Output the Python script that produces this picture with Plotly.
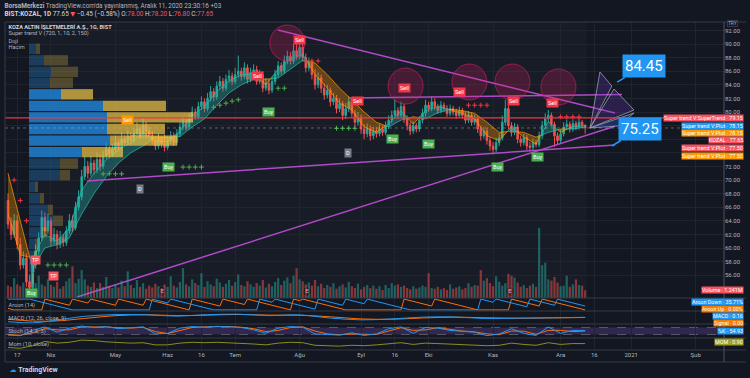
import plotly.graph_objects as go

# ---------------- data ----------------
open_ = [67.0, 63.5, 62.0, 64.0, 60.5, 57.5, 58.5, 55.0, 54.2, 57.5,
         59.5, 61.5, 64.5, 62.5, 64.0, 61.0, 62.0, 60.5, 61.5, 60.8,
         62.5, 64.0, 63.0, 66.0, 67.5, 70.5, 72.0, 71.0, 72.5, 71.5,
         73.0, 72.0, 73.5, 74.5, 73.8, 74.5, 75.5, 74.8, 76.0, 75.5,
         76.5, 75.8, 76.8, 77.5, 76.5, 78.0, 77.2, 76.5, 75.8, 75.0,
         76.0, 75.3, 74.8, 75.8, 76.5, 75.5, 76.8, 77.8, 78.5, 77.8,
         79.0, 80.0, 79.3, 80.8, 81.5, 80.5, 82.0, 83.0, 82.2, 83.8,
         84.5, 83.5, 84.8, 85.3, 84.5, 85.5, 86.0, 85.2, 86.5, 84.8,
         85.8, 86.2, 84.5, 85.5, 83.5, 84.2, 83.2, 84.5, 85.5, 86.8,
         86.0, 87.5, 88.2, 87.5, 89.0, 88.2, 89.5, 88.0, 86.5, 87.2,
         85.5, 84.0, 85.0, 83.5, 82.5, 83.2, 81.5, 82.0, 80.5, 81.2,
         79.5, 80.5, 81.5, 79.8, 78.5, 79.2, 77.5, 76.8, 77.5, 76.5,
         77.2, 76.8, 77.5, 77.0, 78.0, 78.8, 79.5, 80.2, 79.5, 80.8,
         79.0, 78.0, 77.2, 78.0, 77.5, 78.8, 79.8, 81.0, 80.5, 81.5,
         80.8, 80.2, 81.0, 80.5, 79.8, 80.5, 80.0, 79.5, 80.2, 79.5,
         78.8, 79.5, 78.5, 79.0, 77.5, 76.5, 77.2, 75.8, 75.0, 74.5,
         75.5, 76.2, 78.5, 80.5, 78.0, 77.0, 77.8, 76.0, 75.5, 76.2,
         75.0, 74.8, 75.5, 75.2, 76.5, 78.0, 79.0, 79.5, 78.2, 76.5,
         75.8, 76.8, 77.8, 78.2, 77.5, 78.3, 77.8, 78.5, 78.0]
high = [68.0, 64.5, 65.0, 64.8, 61.5, 59.5, 59.2, 56.0, 58.2, 60.5,
        62.3, 65.5, 65.2, 65.0, 64.5, 63.0, 62.6, 62.5, 62.0, 63.2,
        65.0, 64.8, 66.8, 68.5, 71.5, 73.5, 72.8, 73.5, 73.0, 74.0,
        73.8, 74.3, 75.5, 75.0, 75.2, 76.5, 76.0, 77.0, 76.6, 77.3,
        77.0, 77.6, 78.5, 78.0, 79.0, 78.6, 77.8, 77.2, 76.5, 76.8,
        76.5, 76.0, 76.5, 77.2, 77.0, 77.5, 78.5, 79.3, 79.0, 79.8,
        80.8, 80.5, 81.5, 82.3, 82.0, 82.8, 83.8, 83.5, 84.5, 85.3,
        85.0, 85.5, 86.2, 85.8, 86.5, 88.3, 86.5, 87.3, 87.0, 86.5,
        87.0, 86.8, 86.2, 86.0, 85.0, 84.8, 85.2, 86.2, 87.5, 87.3,
        88.3, 89.0, 88.8, 90.0, 90.5, 90.3, 90.0, 88.6, 88.0, 87.6,
        86.3, 85.8, 85.5, 84.2, 84.0, 83.6, 82.8, 82.5, 82.0, 81.6,
        81.3, 82.3, 82.0, 80.3, 80.0, 79.6, 78.2, 78.3, 78.0, 77.8,
        77.8, 78.2, 78.0, 78.6, 79.5, 80.2, 81.8, 80.7, 81.5, 81.2,
        79.5, 78.5, 78.6, 78.4, 79.4, 80.5, 81.8, 81.5, 82.3, 82.0,
        81.2, 81.6, 81.4, 81.0, 81.1, 80.9, 80.5, 80.8, 80.6, 80.0,
        80.1, 79.9, 79.6, 79.4, 78.0, 77.8, 77.6, 76.3, 75.6, 76.2,
        76.9, 79.5, 81.8, 81.0, 78.5, 78.4, 78.2, 76.5, 76.8, 76.6,
        75.6, 76.1, 75.9, 77.1, 78.7, 79.8, 80.3, 79.9, 78.6, 77.0,
        77.4, 78.5, 78.9, 78.6, 78.9, 78.7, 79.1, 78.8, 78.2]
low = [62.8, 61.2, 61.5, 59.8, 56.8, 57.0, 54.3, 53.5, 53.8, 57.0,
       59.0, 61.0, 61.8, 62.0, 60.3, 60.5, 59.8, 60.0, 60.2, 60.3,
       62.0, 62.4, 62.6, 65.5, 67.0, 70.0, 70.2, 70.6, 70.8, 71.0,
       71.3, 71.6, 73.0, 73.2, 73.4, 74.0, 74.2, 74.4, 75.0, 75.1,
       75.2, 75.4, 76.3, 76.0, 76.1, 76.7, 76.0, 75.2, 74.4, 74.6,
       74.8, 74.2, 74.4, 75.3, 75.0, 75.1, 76.3, 77.3, 77.3, 77.4,
       78.5, 78.8, 78.9, 80.3, 80.0, 80.1, 81.5, 81.6, 81.8, 83.3,
       83.0, 83.1, 84.3, 84.0, 84.1, 85.0, 84.6, 84.8, 84.2, 84.4,
       85.3, 84.0, 84.1, 82.9, 83.1, 82.6, 82.8, 84.0, 85.1, 85.5,
       85.6, 87.0, 87.0, 87.1, 87.7, 87.8, 87.4, 85.8, 86.0, 84.8,
       83.3, 83.5, 82.8, 81.8, 82.0, 80.8, 81.0, 79.8, 80.0, 78.8,
       79.0, 80.0, 79.2, 77.8, 78.0, 76.8, 76.0, 76.3, 75.8, 76.0,
       76.2, 76.4, 76.5, 76.6, 77.5, 78.3, 79.0, 79.0, 79.1, 78.4,
       77.3, 76.6, 76.8, 77.0, 77.1, 78.3, 79.3, 80.0, 80.1, 80.3,
       79.7, 79.8, 80.0, 79.3, 79.4, 79.5, 79.0, 79.1, 79.0, 78.3,
       78.4, 78.0, 78.1, 76.9, 75.8, 76.1, 75.2, 74.3, 73.8, 74.0,
       75.0, 75.8, 78.0, 77.4, 76.4, 76.6, 75.4, 74.9, 75.1, 74.4,
       74.2, 74.4, 74.8, 74.8, 76.0, 77.5, 78.5, 77.8, 74.9, 75.2,
       75.4, 76.4, 77.4, 77.0, 77.1, 77.3, 77.4, 77.7, 76.8]
close = [63.5, 62.0, 64.0, 60.5, 57.5, 58.5, 55.0, 54.2, 57.5, 59.5,
         61.5, 64.5, 62.5, 64.0, 61.0, 62.0, 60.5, 61.5, 60.8, 62.5,
         64.0, 63.0, 66.0, 67.5, 70.5, 72.0, 71.0, 72.5, 71.5, 73.0,
         72.0, 73.5, 74.5, 73.8, 74.5, 75.5, 74.8, 76.0, 75.5, 76.5,
         75.8, 76.8, 77.5, 76.5, 78.0, 77.2, 76.5, 75.8, 75.0, 76.0,
         75.3, 74.8, 75.8, 76.5, 75.5, 76.8, 77.8, 78.5, 77.8, 79.0,
         80.0, 79.3, 80.8, 81.5, 80.5, 82.0, 83.0, 82.2, 83.8, 84.5,
         83.5, 84.8, 85.3, 84.5, 85.5, 86.0, 85.2, 86.5, 84.8, 85.8,
         86.2, 84.5, 85.5, 83.5, 84.2, 83.2, 84.5, 85.5, 86.8, 86.0,
         87.5, 88.2, 87.5, 89.0, 88.2, 89.5, 88.0, 86.5, 87.2, 85.5,
         84.0, 85.0, 83.5, 82.5, 83.2, 81.5, 82.0, 80.5, 81.2, 79.5,
         80.5, 81.5, 79.8, 78.5, 79.2, 77.5, 76.8, 77.5, 76.5, 77.2,
         76.8, 77.5, 77.0, 78.0, 78.8, 79.5, 80.2, 79.5, 80.8, 79.0,
         78.0, 77.2, 78.0, 77.5, 78.8, 79.8, 81.0, 80.5, 81.5, 80.8,
         80.2, 81.0, 80.5, 79.8, 80.5, 80.0, 79.5, 80.2, 79.5, 78.8,
         79.5, 78.5, 79.0, 77.5, 76.5, 77.2, 75.8, 75.0, 74.5, 75.5,
         76.2, 78.5, 80.5, 78.0, 77.0, 77.8, 76.0, 75.5, 76.2, 75.0,
         74.8, 75.5, 75.2, 76.5, 78.0, 79.0, 79.5, 78.2, 76.5, 75.8,
         76.8, 77.8, 78.2, 77.5, 78.3, 77.8, 78.5, 78.1, 77.65]
volume_m = [2.0, 1.8, 3.2, 2.2, 1.9, 2.5, 1.7, 2.8, 3.0, 2.4,
            3.6, 2.2, 1.9, 3.0, 2.1, 1.8, 2.6, 1.5, 1.9, 2.7,
            3.2, 5.1, 2.4, 3.1, 4.5, 3.0, 2.0, 1.8, 2.5, 1.6,
            2.4, 1.8, 3.4, 1.9, 1.6, 2.2, 1.7, 2.8, 1.9, 4.3,
            2.1, 1.6, 2.9, 1.8, 2.4, 1.5, 2.0, 1.7, 2.3, 1.9,
            1.6, 2.2, 1.8, 3.5, 2.0, 1.7, 2.6, 4.8, 2.2, 1.9,
            3.0, 2.4, 2.1, 4.0, 1.8, 2.7, 2.2, 1.9, 3.1, 2.5,
            1.8, 2.3, 2.9, 2.0, 2.6, 3.8, 2.1, 1.9, 2.7, 2.2,
            1.8, 2.4, 2.0, 2.9, 1.7, 2.3, 1.9, 2.6, 3.2, 2.1,
            2.8, 3.3, 2.4, 3.6, 4.8, 3.0, 2.7, 2.2, 2.5, 2.0,
            2.9, 1.9, 2.3, 1.6, 2.1, 1.8, 2.4, 1.5, 1.9, 2.2,
            1.7, 2.6, 1.9, 1.6, 2.3, 1.4, 1.8, 2.1, 1.6, 2.0,
            1.5, 1.9, 1.3, 2.1, 1.6, 2.4, 2.0, 2.2, 1.8, 2.0,
            1.6, 1.4, 1.9, 1.5, 1.7, 2.0, 1.8, 4.0, 1.6, 1.5,
            1.8, 1.4, 1.6, 1.3, 2.2, 1.5, 1.7, 1.9, 1.4, 1.6,
            2.4, 1.8, 2.1, 2.0, 4.5, 2.8, 3.2, 2.4, 1.9, 3.5,
            2.6, 2.0, 2.4, 3.9, 3.6, 3.3, 2.5, 1.8, 2.1, 1.6,
            2.0, 2.3, 1.8, 11.3, 5.3, 5.7, 3.0, 2.8, 3.4, 2.5,
            1.9, 2.0, 3.6, 1.8, 2.2, 3.0, 2.1, 2.0, 1.241]
bar_index = list(range(len(close)))

tick_idx = [3, 14, 35, 52, 63, 74, 95, 115, 126, 137, 158, 180, 191, 203, 224]
tick_text = ["17", "Nis", "May", "Haz", "16", "Tem", "Ağu", "Eyl", "16", "Eki",
             "Kas", "Ara", "16", "2021", "Şub"]
price_ticks = list(range(56, 93, 2))
hidden_price_ticks = [74, 76, 78]   # covered by the value badges on the scale
price_tick_text = ["" if v in hidden_price_ticks else "%.2f" % v for v in price_ticks]

# volume profile (price rows, up / down volume, value-area flag)
prof_price = [89.3, 87.6, 85.9, 84.3, 82.6, 80.9, 79.2, 77.5, 75.8, 74.1,
              72.4, 70.7, 69.0, 67.3, 65.6, 64.0, 62.3, 60.6, 58.9, 57.2, 55.5]
prof_up = [7, 15, 22, 21, 32, 74, 78, 78, 81, 53, 31, 31, 6, 11, 19, 24, 13, 6, 5, 4, 3]
prof_dn = [4, 24, 27, 23, 32, 63, 86, 58, 67, 41, 18, 10, 3, 4, 5, 10, 5, 3, 3, 2, 2]
prof_va = [0, 0, 0, 0, 1, 1, 1, 1, 1, 1, 0, 0, 0, 0, 0, 0, 0, 0, 0, 0, 0]

# super trend cloud (fast / slow lines)
cloud_idx = list(range(0, 189, 4))
cloud_fast = [65.0, 59.0, 58.5, 62.0, 61.0, 63.0, 68.5, 71.0, 73.0, 74.5, 75.5, 77.0,
              75.7, 75.6, 77.2, 79.5, 80.8, 83.0, 84.6, 85.5, 85.6, 84.0, 86.3, 87.8,
              88.5, 85.5, 83.5, 81.3, 80.3, 77.8, 77.0, 78.3, 80.2, 78.2, 80.2, 80.8,
              80.3, 79.8, 79.0, 76.5, 75.8, 77.8, 76.3, 75.3, 78.6, 77.0, 77.9, 78.0]
cloud_slow = [71.0, 64.0, 57.0, 60.0, 60.5, 61.5, 65.0, 68.0, 70.5, 72.5, 74.0, 75.0,
              76.3, 76.2, 76.4, 77.8, 79.0, 81.0, 82.8, 84.0, 84.8, 84.8, 85.0, 86.3,
              87.6, 87.2, 85.5, 83.5, 81.8, 80.0, 78.5, 77.8, 78.8, 79.3, 79.0, 79.9,
              80.4, 80.2, 79.8, 78.5, 77.0, 77.2, 77.0, 76.3, 77.0, 77.5, 77.5, 77.8]
supertrend_level = 79.15
last_price = 77.65

# trailing-stop crosses (bar index, price)
stop_up_i = [13, 15, 17, 19, 31, 33, 35, 37, 57, 59, 61, 63, 67, 69, 71, 73, 75, 88, 90, 107, 109, 111, 113]
stop_up_p = [57.5, 57.5, 57.5, 57.5, 70.9, 70.9, 70.9, 70.9, 71.9, 71.9, 71.9, 71.9,
             80.7, 81.0, 81.3, 81.6, 81.8, 83.5, 83.5, 77.6, 77.6, 77.6, 77.6]
stop_dn_i = [2, 4, 6, 97, 99, 101, 150, 152, 154, 156, 180, 182, 184, 186]
stop_dn_p = [70.0, 67.0, 64.0, 87.5, 87.5, 87.5, 81.0, 81.0, 81.0, 81.0, 79.3, 79.3, 79.3, 79.3]
stop_or_i = [41, 43, 45, 47, 49, 51]
stop_or_p = [76.5, 76.5, 76.5, 76.3, 76.3, 76.3]

# signal labels (bar index, price)
sell_i = [94.8, 81.4, 114.0, 129.0, 147.2, 164.5, 177.2]
sell_p = [90.6, 85.3, 81.6, 83.5, 82.9, 81.6, 81.3]
sell2_i = [38.8]
sell2_p = [78.8]
buy_i = [84.7, 125.4, 137.1, 159.3, 172.6, 52.4, 7.8]
buy_p = [80.0, 76.0, 75.3, 71.9, 73.4, 71.9, 53.4]
tp_i = [8.8, 14.7]
tp_p = [58.2, 55.9]
d_i = [43.0, 110.7]
d_p = [68.7, 74.0]
earn_i = [50.2, 97.4, 163.5]
earn_p = [53.6, 53.6, 53.6]

# drawings (bar index, price)
trend_lines = [((87.9, 92.06), (197.7, 79.85)),
               ((111.4, 82.06), (200.0, 82.57)),
               ((25.7, 69.85), (197.7, 75.15)),
               ((22.5, 52.8), (197.7, 77.9))]
circle_centers = [(91.0, 90.15), (129.5, 83.82), (150.3, 84.41), (164.3, 84.41), (179.3, 83.68)]
fan_apex = (189.6, 77.65)
fan_pts = [((192.8, 85.88), (196.7, 83.82)),
           ((197.4, 83.38), (203.9, 80.29)),
           ((203.9, 79.85), (198.7, 77.94))]

# indicators
aroon_up_i = [0, 2, 11, 12, 20, 21, 26, 27, 35, 36, 44, 45, 59, 60, 69, 70, 77, 78, 92, 93,
              95, 96, 110, 128, 129, 138, 139, 153, 163, 164, 173, 174, 188]
aroon_up_v = [14, 0, 0, 100, 43, 100, 64, 100, 43, 100, 43, 100, 0, 100, 36, 100, 50, 100, 0, 100,
              86, 100, 0, 0, 100, 36, 100, 0, 0, 100, 36, 100, 0]
aroon_dn_i = [0, 7, 21, 46, 47, 52, 53, 67, 81, 82, 86, 87, 93, 100, 101, 109, 110, 116, 117, 131,
              153, 154, 158, 159, 169, 170, 178, 179, 188]
aroon_dn_v = [100, 100, 0, 0, 100, 64, 100, 0, 0, 100, 71, 100, 57, 7, 100, 43, 100, 57, 100, 0,
              0, 100, 71, 100, 29, 100, 43, 100, 35.71]
macd_i = [0, 8, 15, 25, 35, 45, 55, 65, 75, 85, 95, 105, 115, 125, 135, 145, 155, 165, 175, 188]
macd_v = [-3.5, -4.5, -2.5, 1.0, 2.5, 2.3, 1.2, 2.4, 2.8, 1.6, 2.2, -0.5, -2.0, -1.2, 0.3, 0.5,
          -0.8, -0.6, -0.3, 0.16]
signal_v = [-1.5, -3.0, -3.0, -0.8, 1.6, 2.3, 1.6, 2.0, 2.6, 2.0, 1.9, 0.6, -1.2, -1.5, -0.4, 0.3,
            -0.2, -0.6, -0.4, 0.0]
stoch_i = list(range(0, 189, 4))
stoch_k = [15, 10, 55, 85, 40, 75, 92, 80, 88, 70, 78, 85, 25, 30, 75, 88, 82, 90, 86, 80,
           60, 30, 75, 88, 82, 25, 20, 15, 35, 12, 25, 70, 85, 30, 80, 75, 55, 45, 40, 10,
           25, 70, 30, 12, 85, 30, 55, 54.93]
stoch_d = [20, 14, 35, 70, 60, 60, 85, 86, 84, 78, 75, 82, 45, 28, 55, 80, 85, 86, 88, 82,
           70, 45, 55, 80, 85, 50, 25, 18, 25, 22, 20, 50, 78, 55, 60, 78, 62, 50, 42, 25,
           18, 50, 48, 22, 55, 55, 45, 50]
mom_v = [-8, -10, -4, 6, 2, 4, 9, 8, 5, 3, 2, 3, -2, -2, 2, 4, 3, 4, 3, 2,
         0, -2, 2, 4, 3, -3, -4, -5, -3, -4, -2, 1, 3, -1, 2, 1, 0, -1, -2, -4,
         -3, 2, -1, -3, 3, -1, 1, 0.9]

# ---------------- style ----------------
W, H = 750, 378
BG = "#131722"
GRID = "#20242f"
SEP = "#363a45"
TXT = "#b2b5be"
LTXT = "#d1d4dc"
UP = "#26a69a"
DN = "#ef5350"
RED = "#f7525f"
BLUE = "#2196f3"
ORANGE = "#ff6d00"
PURPLE = "#b04ac8"
FONT = "Roboto, DejaVu Sans, sans-serif"
PX_PER_BAR = 3.07
PX_PER_PRICE = 6.8


def fx(x):
    return x / W


def fy(y):
    return 1 - y / H


X_DOM = [fx(5), fx(724)]
MAIN = [fy(298), fy(22)]
AROON = [fy(311), fy(298)]
MACD = [fy(324), fy(311)]
STOCH = [fy(338), fy(324)]
MOM = [fy(350), fy(338)]

fig = go.Figure()

# volume profile
blue_cols = ["rgba(33,150,243,0.7)" if v else "rgba(33,150,243,0.27)" for v in prof_va]
yel_cols = ["rgba(235,195,70,0.72)" if v else "rgba(235,195,70,0.27)" for v in prof_va]
fig.add_trace(go.Bar(x=prof_up, y=prof_price, orientation="h", xaxis="x2", yaxis="y",
                     width=1.52, marker=dict(color=blue_cols, line_width=0), hoverinfo="skip"))
fig.add_trace(go.Bar(x=prof_dn, y=prof_price, base=prof_up, orientation="h", xaxis="x2",
                     yaxis="y", width=1.52, marker=dict(color=yel_cols, line_width=0),
                     hoverinfo="skip"))

# volume
vol_cols = ["rgba(38,166,154,0.5)" if c >= o else "rgba(239,83,80,0.5)"
            for o, c in zip(open_, close)]
fig.add_trace(go.Bar(x=bar_index, y=volume_m, xaxis="x", yaxis="y2", width=0.72,
                     marker=dict(color=vol_cols, line_width=0), hoverinfo="skip"))

# super trend cloud
def cloud_runs(xs, a, b):
    runs = []
    pts = []
    cur = None
    for k in range(len(xs)):
        d = a[k] - b[k]
        s = d >= 0
        if k > 0:
            d0 = a[k - 1] - b[k - 1]
            if (d0 >= 0) != s:
                t = d0 / (d0 - d)
                xc = xs[k - 1] + t * (xs[k] - xs[k - 1])
                yc = a[k - 1] + t * (a[k] - a[k - 1])
                pts.append((xc, yc, yc))
                runs.append((cur, pts))
                pts = [(xc, yc, yc)]
        cur = s
        pts.append((xs[k], a[k], b[k]))
    runs.append((cur, pts))
    return runs


for up_flag, fill, edge in [(True, "rgba(38,166,154,0.38)", "rgba(38,190,170,0.9)"),
                            (False, "rgba(255,152,0,0.33)", "rgba(255,152,0,0.9)")]:
    xs, ys = [], []
    for flag, pts in cloud_runs(cloud_idx, cloud_fast, cloud_slow):
        if flag != up_flag:
            continue
        xs += [p[0] for p in pts] + [p[0] for p in reversed(pts)] + [None]
        ys += [p[1] for p in pts] + [p[2] for p in reversed(pts)] + [None]
    fig.add_trace(go.Scatter(x=xs, y=ys, mode="lines", fill="toself", fillcolor=fill,
                             line=dict(color=edge, width=0.8), xaxis="x", yaxis="y",
                             hoverinfo="skip"))

# trailing stop crosses
for sx, sy, col in [(stop_up_i, stop_up_p, "#4caf50"), (stop_dn_i, stop_dn_p, "#f23645"),
                    (stop_or_i, stop_or_p, "#ff9800")]:
    fig.add_trace(go.Scatter(x=sx, y=sy, mode="markers",
                             marker=dict(symbol="cross-thin", size=3.5, line=dict(color=col, width=1)),
                             xaxis="x", yaxis="y", hoverinfo="skip"))

# candles
fig.add_trace(go.Candlestick(x=bar_index, open=open_, high=high, low=low, close=close,
                             increasing=dict(line=dict(color=UP, width=1), fillcolor=UP),
                             decreasing=dict(line=dict(color=DN, width=1), fillcolor=DN),
                             whiskerwidth=0, xaxis="x", yaxis="y", hoverinfo="skip"))

# trend lines
for (a, b) in trend_lines:
    fig.add_trace(go.Scatter(x=[a[0], b[0]], y=[a[1], b[1]], mode="lines",
                             line=dict(color=PURPLE, width=1.5), xaxis="x", yaxis="y",
                             hoverinfo="skip"))

# fan wedges
fan_fills = ["rgba(103,58,183,0.28)", "rgba(103,58,183,0.28)", "rgba(41,98,255,0.30)"]
for (p1, p2), fc in zip(fan_pts, fan_fills):
    fig.add_trace(go.Scatter(x=[fan_apex[0], p1[0], p2[0], fan_apex[0]],
                             y=[fan_apex[1], p1[1], p2[1], fan_apex[1]],
                             mode="lines", fill="toself", fillcolor=fc,
                             line=dict(color="rgba(160,165,180,0.75)", width=1),
                             xaxis="x", yaxis="y", hoverinfo="skip"))

# earnings markers
fig.add_trace(go.Scatter(x=earn_i, y=earn_p, mode="markers+text", text=["E"] * len(earn_i),
                         textposition="middle center",
                         textfont=dict(size=6, color="#d1d4dc", family=FONT),
                         marker=dict(size=10, color="#0c0f16", line=dict(color="#2a2e39", width=1)),
                         xaxis="x", yaxis="y", hoverinfo="skip"))

# indicator panes
fig.add_trace(go.Scatter(x=aroon_up_i, y=aroon_up_v, mode="lines", line=dict(color=ORANGE, width=1),
                         xaxis="x", yaxis="y3", hoverinfo="skip"))
fig.add_trace(go.Scatter(x=aroon_dn_i, y=aroon_dn_v, mode="lines", line=dict(color=BLUE, width=1),
                         xaxis="x", yaxis="y3", hoverinfo="skip"))
fig.add_trace(go.Scatter(x=macd_i, y=signal_v, mode="lines", line=dict(color=ORANGE, width=1, shape="spline"),
                         xaxis="x", yaxis="y4", hoverinfo="skip"))
fig.add_trace(go.Scatter(x=macd_i, y=macd_v, mode="lines", line=dict(color=BLUE, width=1, shape="spline"),
                         xaxis="x", yaxis="y4", hoverinfo="skip"))
fig.add_trace(go.Scatter(x=stoch_i, y=stoch_d, mode="lines", line=dict(color=ORANGE, width=1),
                         xaxis="x", yaxis="y5", hoverinfo="skip"))
fig.add_trace(go.Scatter(x=stoch_i, y=stoch_k, mode="lines", line=dict(color=BLUE, width=1),
                         xaxis="x", yaxis="y5", hoverinfo="skip"))
fig.add_trace(go.Scatter(x=stoch_i, y=mom_v, mode="lines", line=dict(color="#8c8c1e", width=1),
                         xaxis="x", yaxis="y6", hoverinfo="skip"))

# ---------------- shapes ----------------
shapes = []
shapes.append(dict(type="rect", xref="x", yref="paper", x0=6.8, x1=188.5, y0=MAIN[0], y1=MAIN[1],
                   fillcolor="rgba(255,255,255,0.022)", line_width=0, layer="below"))
shapes.append(dict(type="rect", xref="paper", yref="y5", x0=X_DOM[0], x1=X_DOM[1], y0=20, y1=80,
                   fillcolor="rgba(126,87,194,0.28)", line_width=0, layer="below"))
for lvl in (20, 80):
    shapes.append(dict(type="line", xref="paper", yref="y5", x0=X_DOM[0], x1=X_DOM[1], y0=lvl, y1=lvl,
                       line=dict(color="rgba(120,123,134,0.6)", width=1, dash="dash"), layer="below"))
shapes.append(dict(type="line", xref="paper", yref="y", x0=X_DOM[0], x1=X_DOM[1],
                   y0=supertrend_level, y1=supertrend_level, line=dict(color="#f23645", width=1.2)))
shapes.append(dict(type="line", xref="paper", yref="y", x0=X_DOM[0], x1=X_DOM[1],
                   y0=last_price, y1=last_price, line=dict(color="rgba(178,181,190,0.45)", width=1, dash="dot")))
for cx, cy in circle_centers:
    rx = 17.5 / PX_PER_BAR
    ry = 18.0 / PX_PER_PRICE
    shapes.append(dict(type="circle", xref="x", yref="y", x0=cx - rx, x1=cx + rx, y0=cy - ry, y1=cy + ry,
                       fillcolor="rgba(233,30,99,0.22)", line=dict(color="rgba(233,30,99,0.55)", width=1)))
for yy in (298, 311, 324, 338, 350, 362):
    shapes.append(dict(type="line", xref="paper", yref="paper", x0=fx(5), x1=fx(746), y0=fy(yy), y1=fy(yy),
                       line=dict(color=SEP, width=1)))
shapes.append(dict(type="line", xref="paper", yref="paper", x0=fx(5), x1=fx(746), y0=fy(22), y1=fy(22),
                   line=dict(color=SEP, width=1)))
shapes.append(dict(type="line", xref="paper", yref="paper", x0=fx(5), x1=fx(5), y0=fy(362), y1=fy(22),
                   line=dict(color=SEP, width=1)))
shapes.append(dict(type="line", xref="paper", yref="paper", x0=fx(724), x1=fx(724), y0=fy(362), y1=fy(22),
                   line=dict(color="#50535e", width=1)))

# ---------------- annotations ----------------
ann = []


def txt(x, y, s, size=6, color=LTXT, xanchor="left"):
    ann.append(dict(xref="paper", yref="paper", x=fx(x), y=fy(y), text=s,
                    showarrow=False, xanchor=xanchor, yanchor="middle",
                    font=dict(size=size, color=color, family=FONT), borderpad=0.5))


R = "#f7525f"
txt(3, 5, "<b>BorsaMerkezi</b> TradingView.com'da yayınlanmış, Aralık 11, 2020 23:30:16 +03", 6.4, TXT)
txt(3, 14, "<b>BIST:KOZAL, 1D</b> 77.65 <span style='color:%s'>▼</span> −0.45 (−0.58%%) "
           "O:<span style='color:%s'>78.00</span> H:<span style='color:%s'>78.20</span> "
           "L:<span style='color:%s'>76.80</span> C:<span style='color:%s'>77.65</span>" % (R, R, R, R, R),
    6.4, LTXT)
txt(7, 26, "<b>KOZA ALTIN İŞLETMELERİ A.Ş., 1G, BIST</b>", 5.6, LTXT)
txt(7, 33, "Super trend V (720, 1, 10, 2, 150)", 5.6, TXT)
txt(7, 40, "Doji", 5.6, TXT)
txt(7, 47, "Hacim", 5.6, TXT)
txt(7, 304.5, "Aroon (14)", 5.6, TXT)
txt(7, 317.5, "MACD (12, 26, close, 9)", 5.6, TXT)
txt(7, 331, "Stoch (14, 3, 3)", 5.6, TXT)
txt(7, 344, "Mom (10, close)", 5.6, TXT)
txt(8, 369.5, "<span style='color:#2196f3'>☁</span> <b>TradingView</b>", 7, LTXT)
ann.append(dict(xref="paper", yref="paper", x=fx(738), y=fy(24.5), text="TRY", showarrow=False,
                yanchor="bottom", yshift=-3,
                font=dict(size=4.8, color=TXT, family=FONT), bordercolor="#363a45", borderwidth=1,
                borderpad=0, bgcolor=BG))

right_labels = [
    (118, "Super trend V:SuperTrend · 79.15", RED),
    (125.5, "Super trend V:Plot · 78.15", BLUE),
    (133, "Super trend V:Plot · 78.15", "#ff9800"),
    (140.5, "KOZAL · 77.65", RED),
    (148, "Super trend V:Plot · 77.50", RED),
    (155.5, "Super trend V:Plot · 77.50", "#ff9800"),
    (290, "Volume · 1.241M", RED),
    (302, "Aroon Down · 35.71%", BLUE),
    (309, "Aroon Up · 0.00%", "#f57c00"),
    (315.5, "MACD · 0.16", BLUE),
    (322.5, "Signal · 0.00", "#f57c00"),
    (331, "%K · 54.93", BLUE),
    (342, "MOM · 0.90", "#9e9d24"),
]
for yy, s, col in right_labels:
    ann.append(dict(xref="paper", yref="paper", x=fx(744), y=fy(yy), text=s, showarrow=False,
                    xanchor="right", yanchor="middle", bgcolor=col, borderpad=0,
                    font=dict(size=5.4, color="white", family=FONT)))


def tag(i, p, s, bg, fg="white", size=5.5):
    ann.append(dict(xref="x", yref="y", x=i, y=p, text=s, showarrow=False, bgcolor=bg,
                    borderpad=1, font=dict(size=size, color=fg, family=FONT)))


for i, p in zip(sell_i, sell_p):
    tag(i, p, "Sell", "#f23645")
for i, p in zip(sell2_i, sell2_p):
    tag(i, p, "Sell", "#ff9800")
for i, p in zip(buy_i, buy_p):
    tag(i, p, "Buy", "#4caf50")
for i, p in zip(tp_i, tp_p):
    tag(i, p, "TP", "#f7525f")
for i, p in zip(d_i, d_p):
    tag(i, p, "D", "#787b86")

ann.append(dict(xref="x", yref="y", x=198.4, y=84.4, ax=27, ay=-16, text="84.45", showarrow=True,
                arrowhead=0, arrowwidth=1.5, arrowcolor=BLUE, bgcolor=BLUE, borderpad=2,
                font=dict(size=15, color="white", family=FONT)))
ann.append(dict(xref="x", yref="y", x=196.7, y=75.0, ax=28, ay=-17, text="75.25", showarrow=True,
                arrowhead=0, arrowwidth=1.5, arrowcolor=BLUE, bgcolor=BLUE, borderpad=2,
                font=dict(size=15, color="white", family=FONT)))

# ---------------- layout ----------------
x_range = [(5 - 8) / PX_PER_BAR, (724 - 8) / PX_PER_BAR]
y_range = [80 - (298 - 112) / PX_PER_PRICE, 80 + (112 - 22) / PX_PER_PRICE]

fig.update_layout(
    width=W, height=H, margin=dict(l=0, r=0, t=0, b=0),
    paper_bgcolor=BG, plot_bgcolor=BG, showlegend=False, barmode="overlay",
    hovermode=False, font=dict(family=FONT, color=TXT, size=6),
    xaxis=dict(domain=X_DOM, range=x_range, anchor="y6", tickvals=tick_idx, ticktext=tick_text,
               showgrid=True, gridcolor=GRID, gridwidth=1, zeroline=False, showline=False,
               ticks="", tickfont=dict(size=6, color=TXT, family=FONT),
               rangeslider=dict(visible=False), fixedrange=True),
    xaxis2=dict(domain=X_DOM, range=[-24, 695], overlaying="x", anchor="y", visible=False),
    yaxis=dict(domain=MAIN, range=y_range, side="right", anchor="x", tickvals=price_ticks,
               ticktext=price_tick_text, showgrid=True, gridcolor=GRID, zeroline=False,
               ticks="", tickfont=dict(size=6, color=TXT, family=FONT)),
    yaxis2=dict(domain=MAIN, range=[0, 44.5], overlaying="y", anchor="x", visible=False),
    yaxis3=dict(domain=AROON, range=[-10, 110], anchor="x", showgrid=False, zeroline=False,
                showticklabels=False),
    yaxis4=dict(domain=MACD, range=[-5.5, 5.5], anchor="x", showgrid=False, zeroline=False,
                showticklabels=False),
    yaxis5=dict(domain=STOCH, range=[-10, 110], anchor="x", showgrid=False, zeroline=False,
                showticklabels=False),
    yaxis6=dict(domain=MOM, range=[-14, 14], anchor="x", showgrid=False, zeroline=False,
                showticklabels=False),
    shapes=shapes, annotations=ann,
)

fig.write_html("out.html", config={"displayModeBar": False},
               post_script="document.body.style.margin='0';document.body.style.background='#131722';"
                           "document.documentElement.style.overflow='hidden';")
